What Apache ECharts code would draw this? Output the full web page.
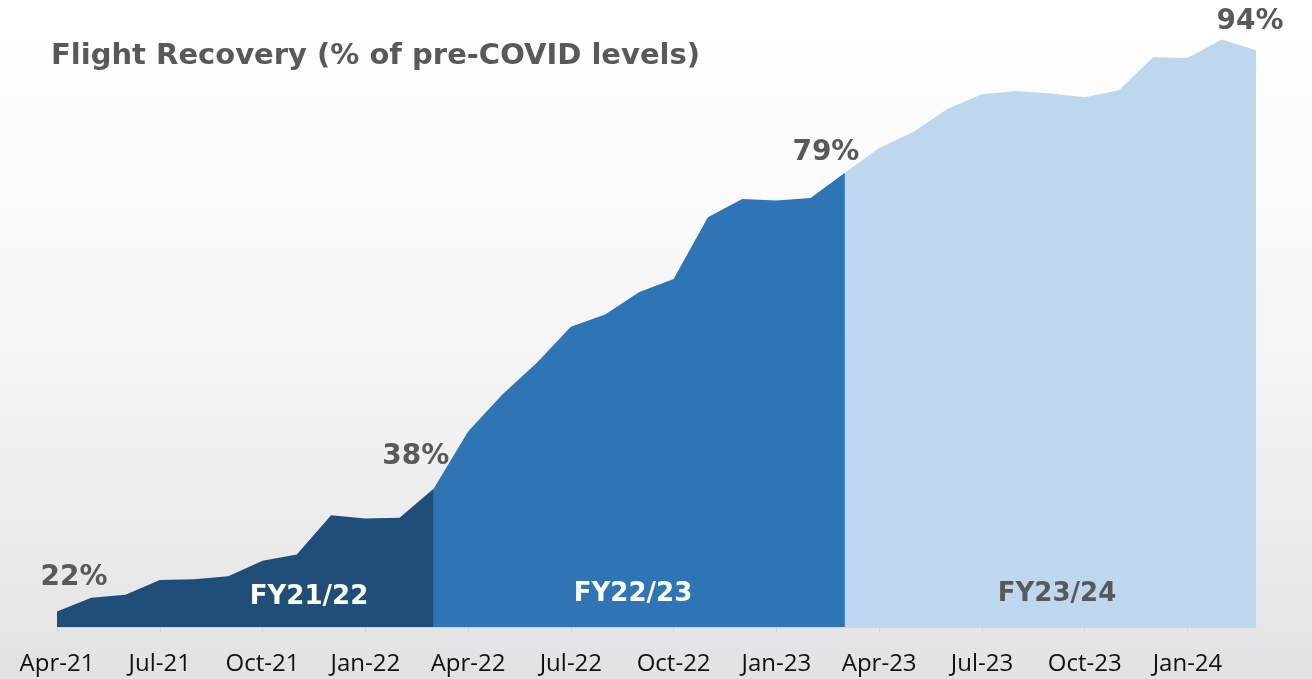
<!DOCTYPE html>
<html>
<head>
<meta charset="utf-8">
<script src="https://cdn.jsdelivr.net/npm/echarts@6/dist/echarts.min.js"></script>
<style>
html,body{margin:0;padding:0;}
#main{width:1312px;height:679px;}
</style>
</head>
<body>
<div id="main"></div>
<script>
// ---- data ----
var months = ['Apr-21','May-21','Jun-21','Jul-21','Aug-21','Sep-21','Oct-21','Nov-21','Dec-21','Jan-22','Feb-22','Mar-22',
              'Apr-22','May-22','Jun-22','Jul-22','Aug-22','Sep-22','Oct-22','Nov-22','Dec-22','Jan-23','Feb-23','Mar-23',
              'Apr-23','May-23','Jun-23','Jul-23','Aug-23','Sep-23','Oct-23','Nov-23','Dec-23','Jan-24','Feb-24','Mar-24'];
var recovery = [22.0, 23.8, 24.2, 26.1, 26.2, 26.6, 28.6, 29.4, 34.5, 34.1, 34.2, 38.0,
                45.4, 50.2, 54.3, 59.0, 60.6, 63.5, 65.2, 73.2, 75.6, 75.4, 75.7, 79.0,
                82.2, 84.3, 87.3, 89.2, 89.6, 89.3, 88.8, 89.7, 94.0, 93.9, 96.3, 94.9];
var fyNames = ['FY21/22', 'FY22/23', 'FY23/24'];
var fyStart = [0, 11, 23];
var fyEnd = [11, 23, 35];
var labelIdx = [0, 11, 23, 35];
var labelText = ['22%', '38%', '79%', '94%'];

// ---- styles ----
var fyColors = ['#1F4E79', '#2E75B6', '#BDD7EE'];
var fyTextColors = ['#ffffff', '#ffffff', '#595959'];
var fyTextPos = [[309, 597], [633, 594], [1057, 594]];
var labelOffsets = [[17, -20], [-18, -18], [-19, -6], [-6, -15]];

function segment(a, b) {
  return recovery.map(function (v, i) { return (i >= a && i <= b) ? v : null; });
}

var series = fyNames.map(function (name, k) {
  return {
    name: name,
    type: 'line',
    data: segment(fyStart[k], fyEnd[k]),
    showSymbol: false,
    symbol: 'none',
    connectNulls: false,
    lineStyle: { width: 0, opacity: 0 },
    areaStyle: { color: fyColors[k], opacity: 1 },
    itemStyle: { color: fyColors[k] },
    silent: true,
    z: 2
  };
});

series.push({
  type: 'scatter',
  symbolSize: 0,
  z: 5,
  itemStyle: { opacity: 1, color: 'rgba(0,0,0,0)' },
  data: labelIdx.map(function (idx, j) {
    return {
      value: [idx, recovery[idx]],
      label: {
        show: true,
        position: 'top',
        distance: 0,
        offset: labelOffsets[j],
        formatter: labelText[j],
        fontFamily: 'DejaVu Sans',
        fontWeight: 'bold',
        fontSize: 28,
        lineHeight: 28,
        color: '#595959',
        opacity: 1
      }
    };
  })
});

var chart = echarts.init(document.getElementById('main'), null, { renderer: 'canvas' });
chart.setOption({
  animation: false,
  backgroundColor: {
    type: 'linear', x: 0, y: 0, x2: 0, y2: 1,
    colorStops: [
      { offset: 0, color: '#ffffff' },
      { offset: 0.35, color: '#f9f9f9' },
      { offset: 0.7, color: '#efeff0' },
      { offset: 1, color: '#e2e2e4' }
    ]
  },
  title: {
    text: 'Flight Recovery (% of pre-COVID levels)',
    left: 46,
    top: 37,
    textStyle: {
      fontFamily: 'DejaVu Sans',
      fontWeight: 'bold',
      fontSize: 29,
      color: '#595959'
    }
  },
  grid: { left: 57, right: 56, top: 11, bottom: 52, containLabel: false },
  xAxis: {
    type: 'category',
    data: months,
    boundaryGap: false,
    axisLine: { show: true, lineStyle: { color: '#d4d4d6', width: 1 } },
    axisTick: { show: true, interval: 2, length: 5, lineStyle: { color: '#d4d4d6' } },
    axisLabel: {
      interval: 2,
      margin: 25,
      fontFamily: 'Open Sans',
      fontSize: 24,
      color: '#111111'
    },
    splitLine: { show: false },
    z: 3
  },
  yAxis: {
    type: 'value',
    min: 20,
    max: 100,
    show: false,
    splitLine: { show: false }
  },
  graphic: fyNames.map(function (name, k) {
    return {
      type: 'text',
      x: fyTextPos[k][0],
      y: fyTextPos[k][1],
      z: 10,
      style: {
        text: name,
        fill: fyTextColors[k],
        font: 'bold 26px "DejaVu Sans"',
        textAlign: 'center',
        textVerticalAlign: 'middle'
      }
    };
  }),
  series: series
});
</script>
</body>
</html>
